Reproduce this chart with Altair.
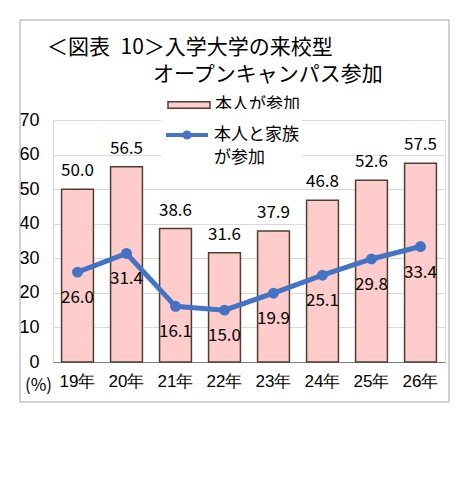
import altair as alt
import pandas as pd

years = ["19年", "20年", "21年", "22年", "23年", "24年", "25年", "26年"]
self_vals = [50.0, 56.5, 38.6, 31.6, 37.9, 46.8, 52.6, 57.5]
family_vals = [26.0, 31.4, 16.1, 15.0, 19.9, 25.1, 29.8, 33.4]
y_ticks = [0, 10, 20, 30, 40, 50, 60, 70]
title_line1 = "＜図表\u200210＞入学大学の来校型"
title_line2 = "オープンキャンパス参加"
bar_series = "本人が参加"
line_series = "本人と家族|が参加"

df = pd.DataFrame({"year": years, "self": self_vals, "family": family_vals,
                   "s1": bar_series, "s2": line_series})
one_row = pd.DataFrame({"k": [0]})

FONT = "Noto Sans CJK JP"
PINK = "#ffcccc"
EDGE = "#4d4030"
BLUE = "#4472c4"

x = alt.X("year:N", sort=years,
          scale=alt.Scale(paddingInner=0.35, paddingOuter=0.175),
          axis=alt.Axis(title=None, labelAngle=0, ticks=False, grid=False,
                        domainColor="#808080", domainWidth=1.2,
                        labelPadding=11, labelFontSize=17))
y_axis = alt.Axis(values=y_ticks, title="(%)", titleAngle=0, titleX=-15, titleY=265,
                  titleAlign="center", titleBaseline="middle", titleFontSize=17,
                  titleFontWeight="normal", titleFont=FONT, titleColor="black",
                  labelFontSize=18, labelPadding=14, ticks=False, grid=True,
                  gridColor="#d9d9d9", domainColor="#d9d9d9")
yscale = alt.Scale(domain=[0, 70])

frame = alt.Chart(one_row).mark_rect(fillOpacity=0, stroke="#a6a6a6", strokeWidth=1).encode(
    x=alt.value(-33), x2=alt.value(396), y=alt.value(-100), y2=alt.value(282))

title1 = alt.Chart(one_row).mark_text(align="left", baseline="middle", font=FONT,
                                      fontSize=21, color="black").encode(
    x=alt.value(-6), y=alt.value(-72), text=alt.value(title_line1))
title2 = alt.Chart(one_row).mark_text(align="left", baseline="middle", font=FONT,
                                      fontSize=21, color="black").encode(
    x=alt.value(100), y=alt.value(-45), text=alt.value(title_line2))

bars = alt.Chart(df).mark_bar(stroke=EDGE, strokeWidth=1.5).encode(
    x=x,
    y=alt.Y("self:Q", scale=yscale, axis=y_axis),
    fill=alt.Fill("s1:N", scale=alt.Scale(range=[PINK]),
                  legend=alt.Legend(title=None, orient="none", legendX=114, legendY=-37,
                                    symbolType="M-1,-0.15H1V0.15H-1Z", symbolSize=1764,
                                    symbolStrokeColor=EDGE, symbolStrokeWidth=1.5,
                                    labelFontSize=17, labelFont=FONT, labelColor="black",
                                    padding=0)),
)

line = alt.Chart(df).mark_line(strokeWidth=5).encode(
    x=x,
    y=alt.Y("family:Q", scale=yscale, axis=y_axis),
    stroke=alt.Stroke("s2:N", scale=alt.Scale(range=[BLUE]),
                      legend=alt.Legend(title=None, orient="none", legendX=108, legendY=-11,
                                        symbolType="M-1,0H1M-0.12,0A0.12,0.12,0,1,1,0.12,0A0.12,0.12,0,1,1,-0.12,0",
                                        symbolSize=1764, symbolStrokeWidth=4,
                                        symbolFillColor=BLUE, labelExpr="split(datum.label, '|')",
                                        labelFontSize=17, labelFont=FONT, labelColor="black",
                                        padding=3, fillColor="white")),
)

points = alt.Chart(df).mark_circle(size=120, color=BLUE, opacity=1).encode(
    x=x, y=alt.Y("family:Q", scale=yscale, axis=y_axis))

bar_labels = alt.Chart(df).mark_text(dy=-18, font=FONT, fontSize=17, color="black").encode(
    x=x, y=alt.Y("self:Q", scale=yscale, axis=y_axis),
    text=alt.Text("self:Q", format=".1f"))

line_labels = alt.Chart(df).mark_text(dy=26, font=FONT, fontSize=17, color="black").encode(
    x=x, y=alt.Y("family:Q", scale=yscale, axis=y_axis),
    text=alt.Text("family:Q", format=".1f"))

chart = alt.layer(frame, title1, title2, bars, line, points, bar_labels, line_labels).properties(
    width=392, height=242,
    autosize=alt.AutoSizeParams(type="none"),
    padding={"left": 45, "top": 112, "right": 12, "bottom": 60},
).configure_view(stroke=None).configure_axis(
    labelFont=FONT, labelColor="black"
).configure(background="white", style={"guide-label": {"lineHeight": 23}})

chart.save("out.html", embed_options={"renderer": "svg", "actions": False})
